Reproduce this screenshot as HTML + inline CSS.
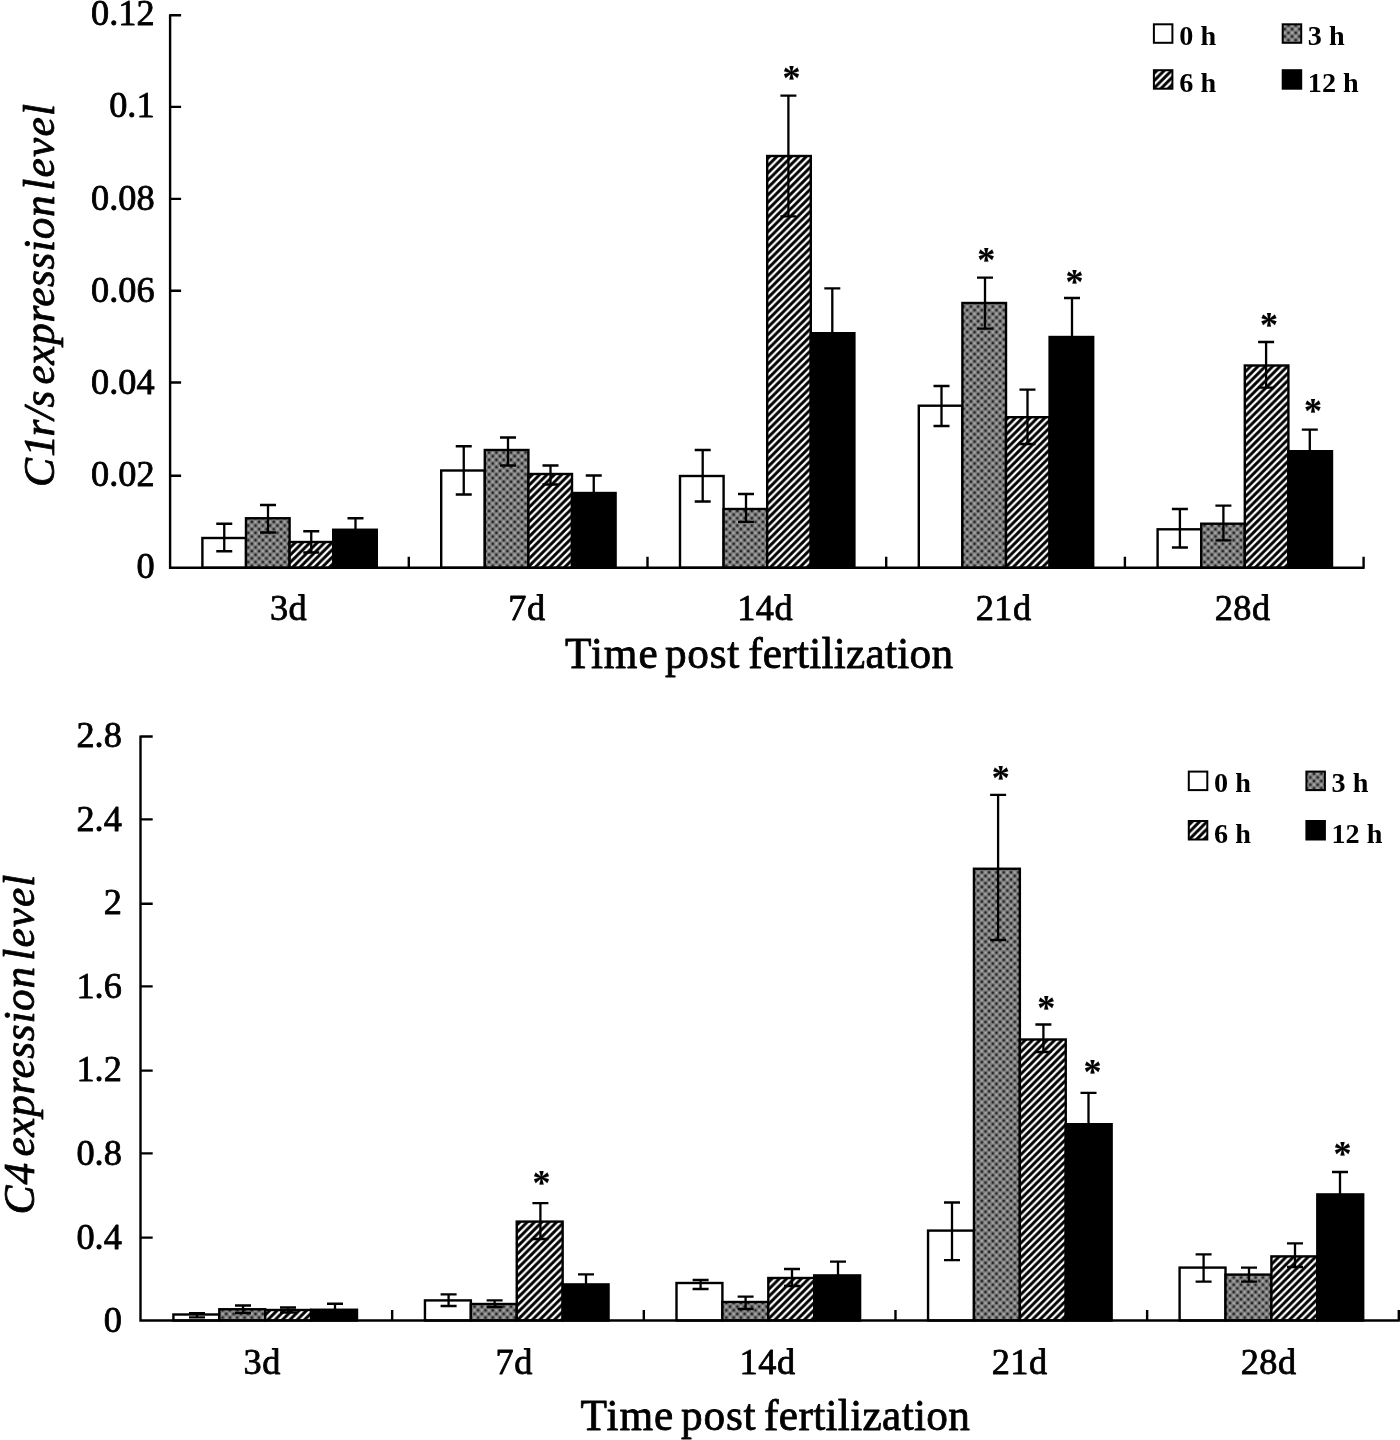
<!DOCTYPE html>
<html><head><meta charset="utf-8"><title>Expression level charts</title>
<style>
html,body{margin:0;padding:0;background:#fff;}
body{width:1400px;height:1440px;overflow:hidden;}
svg{display:block;filter:grayscale(1);}
svg text{font-family:"Liberation Serif",serif;fill:#000;stroke:#000;stroke-linejoin:round;}
</style></head><body>
<svg width="1400" height="1440" viewBox="0 0 1400 1440">
<defs>
<pattern id="hatch" width="7.35" height="7.35" patternUnits="userSpaceOnUse">
<rect width="7.35" height="7.35" fill="#fff"/>
<path d="M-2 2L2 -2M-2 9.35L9.35 -2M5.35 9.35L9.35 5.35" stroke="#000" stroke-width="3.0" fill="none"/>
</pattern>
<pattern id="dots" width="7.3" height="7.3" patternUnits="userSpaceOnUse">
<rect width="7.3" height="7.3" fill="#7b7b7b"/>
<g fill="#a6a6a6"><circle cx="3.65" cy="0" r="1.35"/><circle cx="3.65" cy="7.3" r="1.35"/><circle cx="0" cy="3.65" r="1.35"/><circle cx="7.3" cy="3.65" r="1.35"/></g>
<g fill="#222"><circle cx="0" cy="0" r="1.35"/><circle cx="7.3" cy="0" r="1.35"/><circle cx="0" cy="7.3" r="1.35"/><circle cx="7.3" cy="7.3" r="1.35"/><circle cx="3.65" cy="3.65" r="1.35"/></g>
</pattern>
</defs>
<rect width="1400" height="1440" fill="#fff"/>

<g>
<g id="top">
<rect x="202.40" y="538.00" width="43.60" height="29.80" fill="#ffffff" stroke="#000" stroke-width="2.4"/>
<rect x="246.00" y="518.25" width="43.60" height="49.55" fill="url(#dots)" stroke="#000" stroke-width="2.4"/>
<rect x="289.60" y="542.00" width="43.60" height="25.80" fill="url(#hatch)" stroke="#000" stroke-width="2.4"/>
<rect x="333.20" y="529.75" width="43.60" height="38.05" fill="#000000" stroke="#000" stroke-width="2.4"/>
<rect x="441.20" y="470.50" width="43.60" height="97.30" fill="#ffffff" stroke="#000" stroke-width="2.4"/>
<rect x="484.80" y="450.00" width="43.60" height="117.80" fill="url(#dots)" stroke="#000" stroke-width="2.4"/>
<rect x="528.40" y="474.00" width="43.60" height="93.80" fill="url(#hatch)" stroke="#000" stroke-width="2.4"/>
<rect x="572.00" y="493.00" width="43.60" height="74.80" fill="#000000" stroke="#000" stroke-width="2.4"/>
<rect x="680.00" y="476.00" width="43.60" height="91.80" fill="#ffffff" stroke="#000" stroke-width="2.4"/>
<rect x="723.60" y="509.00" width="43.60" height="58.80" fill="url(#dots)" stroke="#000" stroke-width="2.4"/>
<rect x="767.20" y="156.00" width="43.60" height="411.80" fill="url(#hatch)" stroke="#000" stroke-width="2.4"/>
<rect x="810.80" y="333.20" width="43.60" height="234.60" fill="#000000" stroke="#000" stroke-width="2.4"/>
<rect x="918.80" y="405.70" width="43.60" height="162.10" fill="#ffffff" stroke="#000" stroke-width="2.4"/>
<rect x="962.40" y="303.00" width="43.60" height="264.80" fill="url(#dots)" stroke="#000" stroke-width="2.4"/>
<rect x="1006.00" y="417.20" width="43.60" height="150.60" fill="url(#hatch)" stroke="#000" stroke-width="2.4"/>
<rect x="1049.60" y="337.00" width="43.60" height="230.80" fill="#000000" stroke="#000" stroke-width="2.4"/>
<rect x="1157.60" y="529.30" width="43.60" height="38.50" fill="#ffffff" stroke="#000" stroke-width="2.4"/>
<rect x="1201.20" y="523.70" width="43.60" height="44.10" fill="url(#dots)" stroke="#000" stroke-width="2.4"/>
<rect x="1244.80" y="365.50" width="43.60" height="202.30" fill="url(#hatch)" stroke="#000" stroke-width="2.4"/>
<rect x="1288.40" y="451.20" width="43.60" height="116.60" fill="#000000" stroke="#000" stroke-width="2.4"/>
<path d="M224.25 523.75V551.25M216.25 523.75H232.25M216.25 551.25H232.25" fill="none" stroke="#000" stroke-width="2.3"/>
<path d="M268.00 505.00V532.50M260.00 505.00H276.00M260.00 532.50H276.00" fill="none" stroke="#000" stroke-width="2.3"/>
<path d="M311.25 531.25V552.50M303.25 531.25H319.25M303.25 552.50H319.25" fill="none" stroke="#000" stroke-width="2.3"/>
<path d="M355.50 518.25V539.25M347.50 518.25H363.50M347.50 539.25H363.50" fill="none" stroke="#000" stroke-width="2.3"/>
<path d="M463.75 446.25V494.50M455.75 446.25H471.75M455.75 494.50H471.75" fill="none" stroke="#000" stroke-width="2.3"/>
<path d="M508.00 437.50V465.50M500.00 437.50H516.00M500.00 465.50H516.00" fill="none" stroke="#000" stroke-width="2.3"/>
<path d="M550.50 465.50V484.50M542.50 465.50H558.50M542.50 484.50H558.50" fill="none" stroke="#000" stroke-width="2.3"/>
<path d="M593.75 475.50V508.50M585.75 475.50H601.75M585.75 508.50H601.75" fill="none" stroke="#000" stroke-width="2.3"/>
<path d="M702.70 450.00V501.50M694.70 450.00H710.70M694.70 501.50H710.70" fill="none" stroke="#000" stroke-width="2.3"/>
<path d="M746.00 494.00V521.80M738.00 494.00H754.00M738.00 521.80H754.00" fill="none" stroke="#000" stroke-width="2.3"/>
<path d="M788.40 95.60V216.40M780.40 95.60H796.40M780.40 216.40H796.40" fill="none" stroke="#000" stroke-width="2.3"/>
<path d="M832.30 288.40V376.00M824.30 288.40H840.30M824.30 376.00H840.30" fill="none" stroke="#000" stroke-width="2.3"/>
<path d="M941.50 386.00V426.00M933.50 386.00H949.50M933.50 426.00H949.50" fill="none" stroke="#000" stroke-width="2.3"/>
<path d="M985.00 277.60V328.70M977.00 277.60H993.00M977.00 328.70H993.00" fill="none" stroke="#000" stroke-width="2.3"/>
<path d="M1027.50 389.70V444.00M1019.50 389.70H1035.50M1019.50 444.00H1035.50" fill="none" stroke="#000" stroke-width="2.3"/>
<path d="M1072.00 298.00V374.00M1064.00 298.00H1080.00M1064.00 374.00H1080.00" fill="none" stroke="#000" stroke-width="2.3"/>
<path d="M1179.90 509.00V547.50M1171.90 509.00H1187.90M1171.90 547.50H1187.90" fill="none" stroke="#000" stroke-width="2.3"/>
<path d="M1223.40 505.60V540.40M1215.40 505.60H1231.40M1215.40 540.40H1231.40" fill="none" stroke="#000" stroke-width="2.3"/>
<path d="M1266.10 342.00V387.70M1258.10 342.00H1274.10M1258.10 387.70H1274.10" fill="none" stroke="#000" stroke-width="2.3"/>
<path d="M1309.80 429.60V470.80M1301.80 429.60H1317.80M1301.80 470.80H1317.80" fill="none" stroke="#000" stroke-width="2.3"/>
<path d="M170.10 14.20V567.80H1364.60M170.10 15.20h11M170.10 106.90h11M170.10 198.90h11M170.10 290.70h11M170.10 382.50h11M170.10 475.80h11M408.80 567.80v-11M647.50 567.80v-11M886.20 567.80v-11M1124.90 567.80v-11M1363.60 567.80v-11" fill="none" stroke="#000" stroke-width="2.4"/>
<text x="154.60" y="25.30" font-size="36.3" text-anchor="end" font-weight="normal" font-style="normal" stroke-width="0.8" >0.12</text>
<text x="154.60" y="117.40" font-size="36.3" text-anchor="end" font-weight="normal" font-style="normal" stroke-width="0.8" >0.1</text>
<text x="154.60" y="209.50" font-size="36.3" text-anchor="end" font-weight="normal" font-style="normal" stroke-width="0.8" >0.08</text>
<text x="154.60" y="301.60" font-size="36.3" text-anchor="end" font-weight="normal" font-style="normal" stroke-width="0.8" >0.06</text>
<text x="154.60" y="393.70" font-size="36.3" text-anchor="end" font-weight="normal" font-style="normal" stroke-width="0.8" >0.04</text>
<text x="154.60" y="485.80" font-size="36.3" text-anchor="end" font-weight="normal" font-style="normal" stroke-width="0.8" >0.02</text>
<text x="154.60" y="577.90" font-size="36.3" text-anchor="end" font-weight="normal" font-style="normal" stroke-width="0.8" >0</text>
<text x="288.60" y="619.90" font-size="36.3" text-anchor="middle" font-weight="normal" font-style="normal" stroke-width="0.8" letter-spacing="0.5">3d</text>
<text x="527.00" y="619.90" font-size="36.3" text-anchor="middle" font-weight="normal" font-style="normal" stroke-width="0.8" letter-spacing="0.5">7d</text>
<text x="765.20" y="619.90" font-size="36.3" text-anchor="middle" font-weight="normal" font-style="normal" stroke-width="0.8" letter-spacing="0.5">14d</text>
<text x="1003.70" y="619.90" font-size="36.3" text-anchor="middle" font-weight="normal" font-style="normal" stroke-width="0.8" letter-spacing="0.5">21d</text>
<text x="1242.70" y="619.90" font-size="36.3" text-anchor="middle" font-weight="normal" font-style="normal" stroke-width="0.8" letter-spacing="0.5">28d</text>
<text x="565.00" y="667.60" font-size="43.3" text-anchor="start" font-weight="normal" font-style="normal" stroke-width="0.8" textLength="92.70" lengthAdjust="spacing">Time</text>
<text x="664.90" y="667.60" font-size="43.3" text-anchor="start" font-weight="normal" font-style="normal" stroke-width="0.8" textLength="74.50" lengthAdjust="spacing">post</text>
<text x="748.20" y="667.60" font-size="43.3" text-anchor="start" font-weight="normal" font-style="normal" stroke-width="0.8" textLength="204.90" lengthAdjust="spacing">fertilization</text>
<text transform="translate(53.50 487.10) rotate(-90)" font-size="43.3" text-anchor="start" font-style="italic" stroke-width="0.8">C</text>
<text transform="translate(53.50 456.80) rotate(-90)" font-size="43.3" text-anchor="start" font-style="italic" stroke-width="0.8">1</text>
<text transform="translate(53.50 436.60) rotate(-90)" font-size="43.3" text-anchor="start" font-style="italic" stroke-width="0.8" textLength="46.00" lengthAdjust="spacing">r/s</text>
<text transform="translate(53.50 384.50) rotate(-90)" font-size="43.3" text-anchor="start" font-style="italic" stroke-width="0.8" textLength="189.10" lengthAdjust="spacing">expression</text>
<text transform="translate(53.50 190.70) rotate(-90)" font-size="43.3" text-anchor="start" font-style="italic" stroke-width="0.8" textLength="86.80" lengthAdjust="spacing">level</text>
<text x="791.60" y="90.30" font-size="36.0" text-anchor="middle" font-weight="bold" font-style="normal" stroke-width="0.2" >*</text>
<text x="986.20" y="272.10" font-size="36.0" text-anchor="middle" font-weight="bold" font-style="normal" stroke-width="0.2" >*</text>
<text x="1074.50" y="294.00" font-size="36.0" text-anchor="middle" font-weight="bold" font-style="normal" stroke-width="0.2" >*</text>
<text x="1269.10" y="336.60" font-size="36.0" text-anchor="middle" font-weight="bold" font-style="normal" stroke-width="0.2" >*</text>
<text x="1313.00" y="422.60" font-size="36.0" text-anchor="middle" font-weight="bold" font-style="normal" stroke-width="0.2" >*</text>
<rect x="1153.90" y="24.30" width="18.50" height="18.50" fill="#ffffff" stroke="#000" stroke-width="2"/>
<text x="1179.30" y="45.30" font-size="28.2" text-anchor="start" font-weight="bold" font-style="normal" stroke-width="0.0" xml:space="preserve">0 h</text>
<rect x="1282.70" y="24.30" width="18.50" height="18.50" fill="url(#dots)" stroke="#000" stroke-width="2"/>
<text x="1307.80" y="45.30" font-size="28.2" text-anchor="start" font-weight="bold" font-style="normal" stroke-width="0.0" xml:space="preserve">3 h</text>
<rect x="1153.90" y="70.20" width="18.50" height="18.50" fill="url(#hatch)" stroke="#000" stroke-width="2"/>
<text x="1179.30" y="92.10" font-size="28.2" text-anchor="start" font-weight="bold" font-style="normal" stroke-width="0.0" xml:space="preserve">6 h</text>
<rect x="1282.70" y="70.20" width="18.50" height="18.50" fill="#000000" stroke="#000" stroke-width="2"/>
<text x="1307.80" y="92.10" font-size="28.2" text-anchor="start" font-weight="bold" font-style="normal" stroke-width="0.0" xml:space="preserve">12 h</text>
</g>
<g id="bottom">
<rect x="173.40" y="1314.50" width="45.90" height="6.00" fill="#ffffff" stroke="#000" stroke-width="2.4"/>
<rect x="219.30" y="1309.25" width="45.90" height="11.25" fill="url(#dots)" stroke="#000" stroke-width="2.4"/>
<rect x="265.20" y="1310.00" width="45.90" height="10.50" fill="url(#hatch)" stroke="#000" stroke-width="2.4"/>
<rect x="311.10" y="1309.75" width="45.90" height="10.75" fill="#000000" stroke="#000" stroke-width="2.4"/>
<rect x="424.95" y="1300.40" width="45.90" height="20.10" fill="#ffffff" stroke="#000" stroke-width="2.4"/>
<rect x="470.85" y="1304.00" width="45.90" height="16.50" fill="url(#dots)" stroke="#000" stroke-width="2.4"/>
<rect x="516.75" y="1221.60" width="45.90" height="98.90" fill="url(#hatch)" stroke="#000" stroke-width="2.4"/>
<rect x="562.65" y="1284.40" width="45.90" height="36.10" fill="#000000" stroke="#000" stroke-width="2.4"/>
<rect x="676.50" y="1283.00" width="45.90" height="37.50" fill="#ffffff" stroke="#000" stroke-width="2.4"/>
<rect x="722.40" y="1302.00" width="45.90" height="18.50" fill="url(#dots)" stroke="#000" stroke-width="2.4"/>
<rect x="768.30" y="1278.00" width="45.90" height="42.50" fill="url(#hatch)" stroke="#000" stroke-width="2.4"/>
<rect x="814.20" y="1275.40" width="45.90" height="45.10" fill="#000000" stroke="#000" stroke-width="2.4"/>
<rect x="928.05" y="1230.60" width="45.90" height="89.90" fill="#ffffff" stroke="#000" stroke-width="2.4"/>
<rect x="973.95" y="868.75" width="45.90" height="451.75" fill="url(#dots)" stroke="#000" stroke-width="2.4"/>
<rect x="1019.85" y="1039.50" width="45.90" height="281.00" fill="url(#hatch)" stroke="#000" stroke-width="2.4"/>
<rect x="1065.75" y="1124.20" width="45.90" height="196.30" fill="#000000" stroke="#000" stroke-width="2.4"/>
<rect x="1179.60" y="1267.60" width="45.90" height="52.90" fill="#ffffff" stroke="#000" stroke-width="2.4"/>
<rect x="1225.50" y="1274.60" width="45.90" height="45.90" fill="url(#dots)" stroke="#000" stroke-width="2.4"/>
<rect x="1271.40" y="1256.40" width="45.90" height="64.10" fill="url(#hatch)" stroke="#000" stroke-width="2.4"/>
<rect x="1317.30" y="1194.40" width="45.90" height="126.10" fill="#000000" stroke="#000" stroke-width="2.4"/>
<path d="M197.00 1313.10V1317.30M189.00 1313.10H205.00M189.00 1317.30H205.00" fill="none" stroke="#000" stroke-width="2.3"/>
<path d="M243.00 1305.50V1313.00M235.00 1305.50H251.00M235.00 1313.00H251.00" fill="none" stroke="#000" stroke-width="2.3"/>
<path d="M288.00 1307.50V1312.50M280.00 1307.50H296.00M280.00 1312.50H296.00" fill="none" stroke="#000" stroke-width="2.3"/>
<path d="M335.00 1303.75V1313.75M327.00 1303.75H343.00M327.00 1313.75H343.00" fill="none" stroke="#000" stroke-width="2.3"/>
<path d="M448.60 1294.40V1306.00M440.60 1294.40H456.60M440.60 1306.00H456.60" fill="none" stroke="#000" stroke-width="2.3"/>
<path d="M494.60 1300.40V1307.00M486.60 1300.40H502.60M486.60 1307.00H502.60" fill="none" stroke="#000" stroke-width="2.3"/>
<path d="M540.40 1203.20V1239.00M532.40 1203.20H548.40M532.40 1239.00H548.40" fill="none" stroke="#000" stroke-width="2.3"/>
<path d="M586.00 1274.40V1292.40M578.00 1274.40H594.00M578.00 1292.40H594.00" fill="none" stroke="#000" stroke-width="2.3"/>
<path d="M700.60 1280.00V1289.00M692.60 1280.00H708.60M692.60 1289.00H708.60" fill="none" stroke="#000" stroke-width="2.3"/>
<path d="M745.60 1296.60V1309.00M737.60 1296.60H753.60M737.60 1309.00H753.60" fill="none" stroke="#000" stroke-width="2.3"/>
<path d="M792.00 1269.00V1286.00M784.00 1269.00H800.00M784.00 1286.00H800.00" fill="none" stroke="#000" stroke-width="2.3"/>
<path d="M838.00 1261.60V1287.20M830.00 1261.60H846.00M830.00 1287.20H846.00" fill="none" stroke="#000" stroke-width="2.3"/>
<path d="M952.00 1202.50V1260.20M944.00 1202.50H960.00M944.00 1260.20H960.00" fill="none" stroke="#000" stroke-width="2.3"/>
<path d="M998.10 794.80V940.00M990.10 794.80H1006.10M990.10 940.00H1006.10" fill="none" stroke="#000" stroke-width="2.3"/>
<path d="M1043.40 1024.50V1052.00M1035.40 1024.50H1051.40M1035.40 1052.00H1051.40" fill="none" stroke="#000" stroke-width="2.3"/>
<path d="M1088.50 1092.80V1153.60M1080.50 1092.80H1096.50M1080.50 1153.60H1096.50" fill="none" stroke="#000" stroke-width="2.3"/>
<path d="M1203.60 1254.40V1281.60M1195.60 1254.40H1211.60M1195.60 1281.60H1211.60" fill="none" stroke="#000" stroke-width="2.3"/>
<path d="M1249.00 1267.60V1281.60M1241.00 1267.60H1257.00M1241.00 1281.60H1257.00" fill="none" stroke="#000" stroke-width="2.3"/>
<path d="M1295.00 1243.40V1267.00M1287.00 1243.40H1303.00M1287.00 1267.00H1303.00" fill="none" stroke="#000" stroke-width="2.3"/>
<path d="M1340.00 1172.00V1214.80M1332.00 1172.00H1348.00M1332.00 1214.80H1348.00" fill="none" stroke="#000" stroke-width="2.3"/>
<path d="M140.50 735.50V1320.50H1399.80M140.50 736.50h12.2M140.50 819.40h12.2M140.50 903.70h12.2M140.50 986.40h12.2M140.50 1070.60h12.2M140.50 1153.40h12.2M140.50 1237.60h12.2M392.16 1320.50v-10.4M643.82 1320.50v-10.4M895.48 1320.50v-10.4M1147.14 1320.50v-10.4M1398.80 1320.50v-10.4" fill="none" stroke="#000" stroke-width="2.4"/>
<text x="121.80" y="747.20" font-size="36.3" text-anchor="end" font-weight="normal" font-style="normal" stroke-width="0.8" >2.8</text>
<text x="121.80" y="830.77" font-size="36.3" text-anchor="end" font-weight="normal" font-style="normal" stroke-width="0.8" >2.4</text>
<text x="121.80" y="914.34" font-size="36.3" text-anchor="end" font-weight="normal" font-style="normal" stroke-width="0.8" >2</text>
<text x="121.80" y="997.91" font-size="36.3" text-anchor="end" font-weight="normal" font-style="normal" stroke-width="0.8" >1.6</text>
<text x="121.80" y="1081.48" font-size="36.3" text-anchor="end" font-weight="normal" font-style="normal" stroke-width="0.8" >1.2</text>
<text x="121.80" y="1165.05" font-size="36.3" text-anchor="end" font-weight="normal" font-style="normal" stroke-width="0.8" >0.8</text>
<text x="121.80" y="1248.62" font-size="36.3" text-anchor="end" font-weight="normal" font-style="normal" stroke-width="0.8" >0.4</text>
<text x="121.80" y="1332.19" font-size="36.3" text-anchor="end" font-weight="normal" font-style="normal" stroke-width="0.8" >0</text>
<text x="262.20" y="1373.90" font-size="36.3" text-anchor="middle" font-weight="normal" font-style="normal" stroke-width="0.8" letter-spacing="0.5">3d</text>
<text x="514.20" y="1373.90" font-size="36.3" text-anchor="middle" font-weight="normal" font-style="normal" stroke-width="0.8" letter-spacing="0.5">7d</text>
<text x="767.60" y="1373.90" font-size="36.3" text-anchor="middle" font-weight="normal" font-style="normal" stroke-width="0.8" letter-spacing="0.5">14d</text>
<text x="1019.70" y="1373.90" font-size="36.3" text-anchor="middle" font-weight="normal" font-style="normal" stroke-width="0.8" letter-spacing="0.5">21d</text>
<text x="1268.70" y="1373.90" font-size="36.3" text-anchor="middle" font-weight="normal" font-style="normal" stroke-width="0.8" letter-spacing="0.5">28d</text>
<text x="580.60" y="1430.30" font-size="43.3" text-anchor="start" font-weight="normal" font-style="normal" stroke-width="0.8" textLength="92.70" lengthAdjust="spacing">Time</text>
<text x="681.10" y="1430.30" font-size="43.3" text-anchor="start" font-weight="normal" font-style="normal" stroke-width="0.8" textLength="74.50" lengthAdjust="spacing">post</text>
<text x="764.10" y="1430.30" font-size="43.3" text-anchor="start" font-weight="normal" font-style="normal" stroke-width="0.8" textLength="205.90" lengthAdjust="spacing">fertilization</text>
<text transform="translate(34.00 1214.50) rotate(-90)" font-size="43.3" text-anchor="start" font-style="italic" stroke-width="0.8" textLength="51.60" lengthAdjust="spacing">C4</text>
<text transform="translate(34.00 1156.60) rotate(-90)" font-size="43.3" text-anchor="start" font-style="italic" stroke-width="0.8" textLength="189.70" lengthAdjust="spacing">expression</text>
<text transform="translate(34.00 960.70) rotate(-90)" font-size="43.3" text-anchor="start" font-style="italic" stroke-width="0.8" textLength="86.10" lengthAdjust="spacing">level</text>
<text x="541.60" y="1195.30" font-size="36.0" text-anchor="middle" font-weight="bold" font-style="normal" stroke-width="0.2" >*</text>
<text x="1000.80" y="790.10" font-size="36.0" text-anchor="middle" font-weight="bold" font-style="normal" stroke-width="0.2" >*</text>
<text x="1046.25" y="1019.70" font-size="36.0" text-anchor="middle" font-weight="bold" font-style="normal" stroke-width="0.2" >*</text>
<text x="1092.50" y="1084.30" font-size="36.0" text-anchor="middle" font-weight="bold" font-style="normal" stroke-width="0.2" >*</text>
<text x="1342.40" y="1166.30" font-size="36.0" text-anchor="middle" font-weight="bold" font-style="normal" stroke-width="0.2" >*</text>
<rect x="1188.80" y="771.60" width="18.50" height="18.50" fill="#ffffff" stroke="#000" stroke-width="2"/>
<text x="1214.00" y="792.40" font-size="28.2" text-anchor="start" font-weight="bold" font-style="normal" stroke-width="0.0" xml:space="preserve">0 h</text>
<rect x="1306.40" y="771.60" width="18.50" height="18.50" fill="url(#dots)" stroke="#000" stroke-width="2"/>
<text x="1331.50" y="792.40" font-size="28.2" text-anchor="start" font-weight="bold" font-style="normal" stroke-width="0.0" xml:space="preserve">3 h</text>
<rect x="1188.80" y="821.00" width="18.50" height="18.50" fill="url(#hatch)" stroke="#000" stroke-width="2"/>
<text x="1214.00" y="843.00" font-size="28.2" text-anchor="start" font-weight="bold" font-style="normal" stroke-width="0.0" xml:space="preserve">6 h</text>
<rect x="1306.40" y="821.00" width="18.50" height="18.50" fill="#000000" stroke="#000" stroke-width="2"/>
<text x="1331.50" y="843.00" font-size="28.2" text-anchor="start" font-weight="bold" font-style="normal" stroke-width="0.0" xml:space="preserve">12 h</text>
</g>
</g>
</svg></body></html>
